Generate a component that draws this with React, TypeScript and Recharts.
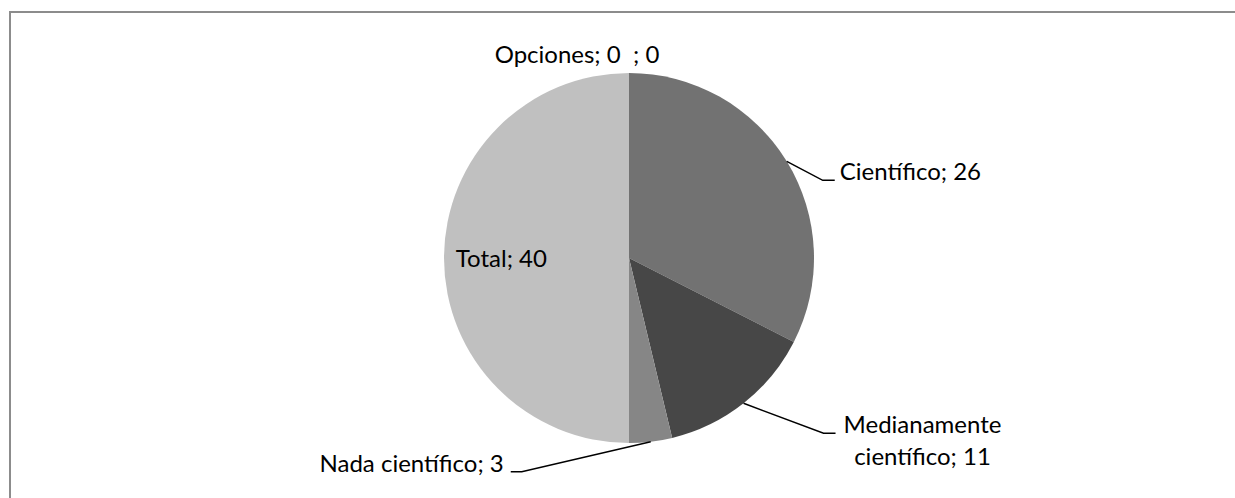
import React from 'react';
import { PieChart, Pie, Cell } from 'recharts';

// Categorías y valores de la encuesta
const categorias = ['Opciones; 0  ', 'Científico', 'Medianamente científico', 'Nada científico', 'Total'];
const valores = [0, 26, 11, 3, 40];
const colores = ['#a0a0a0', '#727272', '#474747', '#868686', '#c0c0c0'];

const data = categorias.map((name, i) => ({ name, value: valores[i] }));

const FONT = 'Lato, "Open Sans", sans-serif';
const RADIO = 185;

// Colocación de cada etiqueta respecto al punto del borde del sector
// (codo de la línea guía, final horizontal, lado del texto)
type Colocacion =
  | { tipo: 'arriba'; dx: number; dy: number }
  | { tipo: 'dentro'; f: number; dy: number }
  | { tipo: 'guia'; codo: [number, number]; tramo: number; lado: 'der' | 'izq'; lineas?: string[] };

const colocaciones: Colocacion[] = [
  { tipo: 'arriba', dx: -52, dy: -10 },
  { tipo: 'guia', codo: [36, 19], tramo: 12, lado: 'der' },
  { tipo: 'guia', codo: [80, 30], tramo: 12, lado: 'der', lineas: ['Medianamente', 'científico; 11'] },
  { tipo: 'guia', codo: [-129, 30], tramo: 11, lado: 'izq' },
  { tipo: 'dentro', f: 0.69, dy: 9 },
];

const RAD = Math.PI / 180;

const Etiqueta = (props: any) => {
  const { cx, cy, midAngle, outerRadius, index, name, value } = props;
  const cfg = colocaciones[index];
  const ex = cx + outerRadius * Math.cos(-midAngle * RAD);
  const ey = cy + outerRadius * Math.sin(-midAngle * RAD);
  const texto = `${name}; ${value}`;
  const estilo = { fontFamily: FONT, fontSize: 24, fill: '#000', whiteSpace: 'pre' as const };

  if (cfg.tipo === 'arriba') {
    return (
      <text x={ex + cfg.dx} y={ey + cfg.dy} textAnchor="middle" style={estilo}>
        {texto}
      </text>
    );
  }
  if (cfg.tipo === 'dentro') {
    const r = outerRadius * cfg.f;
    return (
      <text
        x={cx + r * Math.cos(-midAngle * RAD)}
        y={cy + r * Math.sin(-midAngle * RAD) + cfg.dy}
        textAnchor="middle"
        style={estilo}
      >
        {texto}
      </text>
    );
  }
  const bx = ex + cfg.codo[0];
  const by = ey + cfg.codo[1];
  const fx = cfg.lado === 'der' ? bx + cfg.tramo : bx - cfg.tramo;
  const tx = cfg.lado === 'der' ? fx + 5 : fx - 7;
  return (
    <g>
      <polyline points={`${ex},${ey} ${bx},${by} ${fx},${by}`} fill="none" stroke="#000" strokeWidth={1.5} />
      {cfg.lineas ? (
        <text x={tx + 82} y={by} textAnchor="middle" style={estilo}>
          {cfg.lineas.map((l, i) => (
            <tspan key={l} x={tx + 82} dy={i === 0 ? 0 : 32}>
              {l}
            </tspan>
          ))}
        </text>
      ) : (
        <text x={tx} y={by} textAnchor={cfg.lado === 'der' ? 'start' : 'end'} style={estilo}>
          {texto}
        </text>
      )}
    </g>
  );
};

export default function App() {
  return (
    <div style={{ position: 'absolute', left: 0, top: 0, width: 1235, height: 498, overflow: 'hidden', background: '#fff' }}>
      <div
        style={{
          position: 'absolute',
          left: 9,
          top: 11,
          width: 1260,
          height: 520,
          borderLeft: '2px solid #8c8c8c',
          borderTop: '2px solid #8c8c8c',
        }}
      />
      <div style={{ position: 'absolute', left: 0, top: 0 }}>
        <PieChart width={1235} height={498} margin={{ top: 0, right: 0, bottom: 0, left: 0 }}>
          <Pie
            data={data}
            dataKey="value"
            nameKey="name"
            cx={629}
            cy={258}
            outerRadius={RADIO}
            startAngle={90}
            endAngle={-270}
            stroke="none"
            label={Etiqueta}
            labelLine={false}
            isAnimationActive={false}
          >
            {data.map((d, i) => (
              <Cell key={d.name} fill={colores[i]} />
            ))}
          </Pie>
        </PieChart>
      </div>
    </div>
  );
}
